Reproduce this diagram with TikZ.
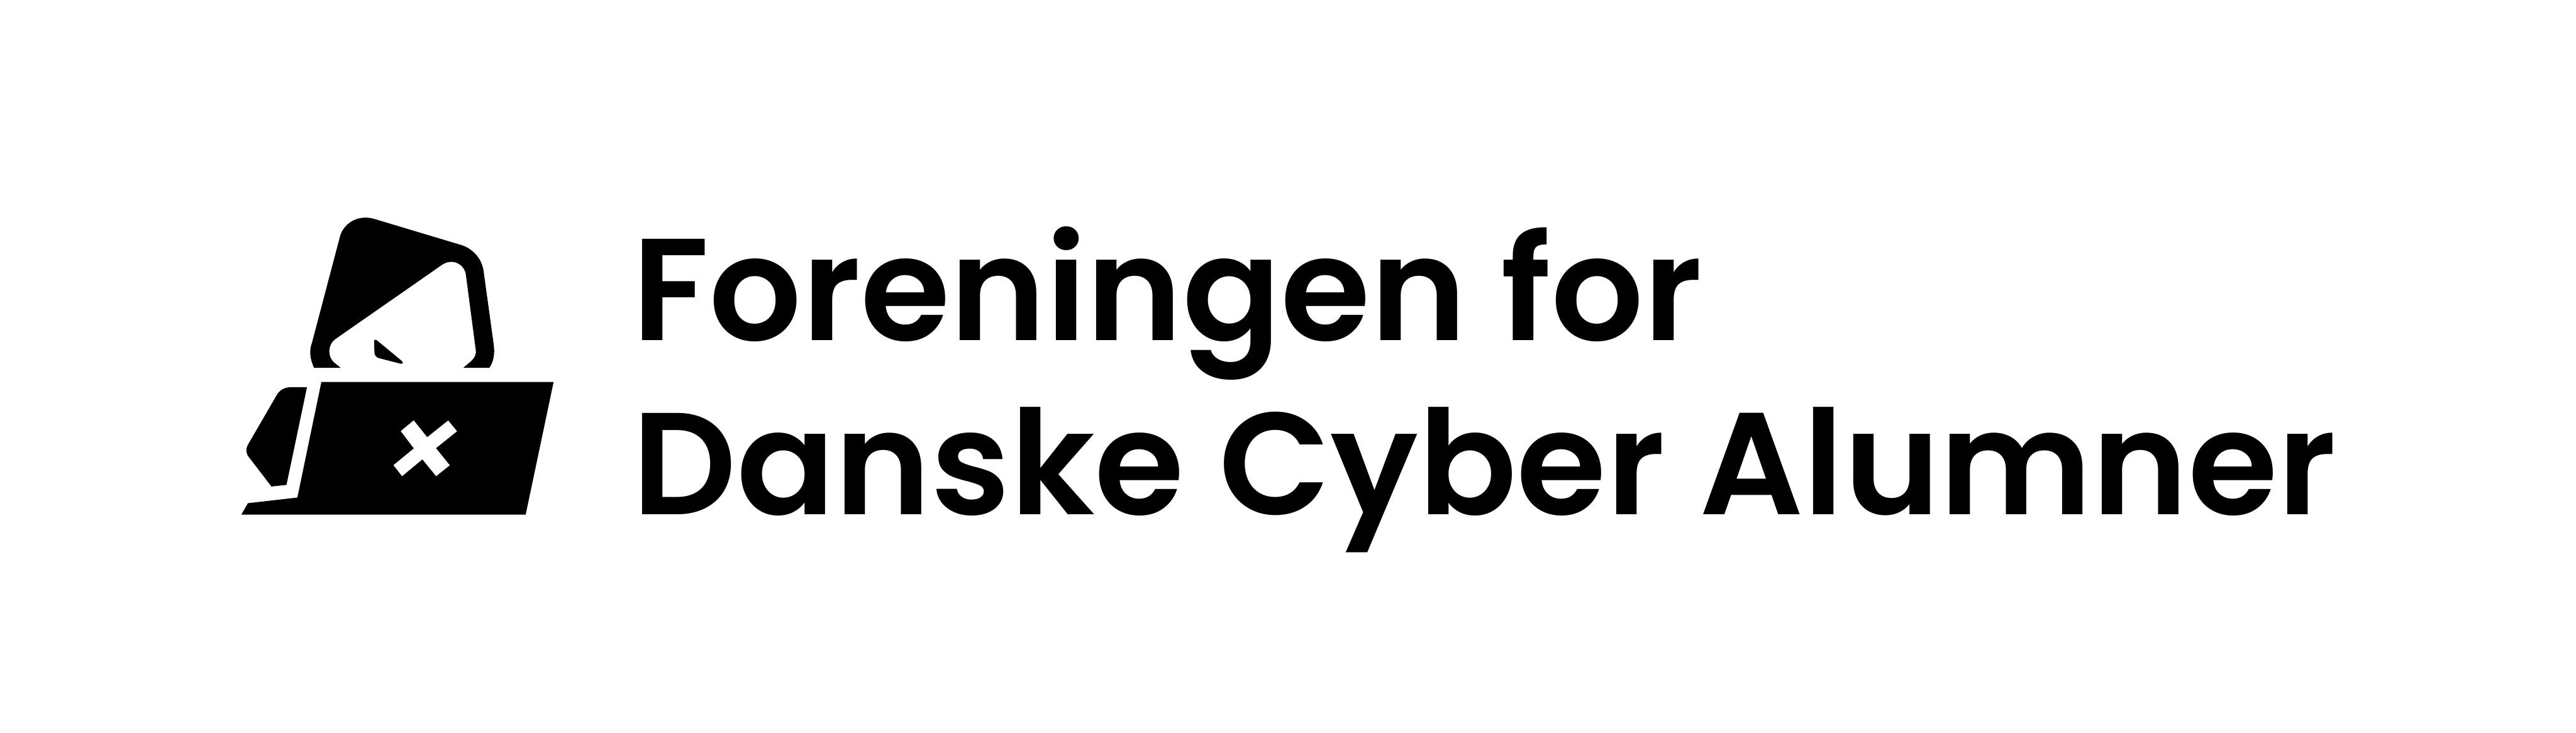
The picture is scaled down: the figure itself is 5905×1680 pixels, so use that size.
\documentclass[tikz,border=0pt]{standalone}
\usepackage{fontspec}
\usepackage{xcolor}
\usepackage{tikz}
\newfontfamily\logofont{Poppins SemiBold}
\tikzset{
  logoshape/.style={fill=black,draw=none},
  logocut/.style={fill=white,draw=none},
  logotext/.style={anchor=base west,inner sep=0pt,font=\logofont\fontsize{94.65}{95}\selectfont}
}

\begin{document}
\begin{tikzpicture}[x=0.01cm,y=-0.01cm]
  \useasboundingbox (0,0) rectangle (5905,1680);

  % ballot paper
  \fill[logoshape] (720,843.7)
    .. controls (711,824) and (708,805) .. (715,786.7)
    -- (780,540)
    .. controls (790,510) and (822,492) .. (856.7,501.7)
    -- (1053.3,560.7)
    .. controls (1082,568) and (1104,592) .. (1108.3,620)
    -- (1131.7,790)
    .. controls (1135,812) and (1131,830) .. (1121.7,843.7)
    -- (1061.7,843.7) -- (1080,828.3)
    .. controls (1088,821) and (1092,812) .. (1090.7,803.3)
    -- (1067.7,628.3)
    .. controls (1063,604) and (1036,592) .. (1013.3,607.3)
    -- (770,776.7)
    .. controls (750,790) and (750,820) .. (768.3,833.3)
    -- (781,843.7) -- cycle;
  \fill[logoshape] (857.7,783)
    .. controls (857.7,778) and (861,778) .. (864,780.5)
    -- (921.7,828.3)
    .. controls (925,832) and (922.5,835.5) .. (919.3,834.3)
    -- (870,821.7)
    .. controls (863,820) and (858.3,815) .. (858.3,808) -- cycle;

  % ballot box with cross
  \fill[logoshape] (736.7,876) -- (1269,876) -- (1205,1180) -- (553.3,1180)
    -- (568.3,1154) -- (681.7,1141) -- cycle;
  \fill[logocut] (948.3,964) -- (979.3,1002.7) -- (1027.3,964.3) -- (1047.6,989)
    -- (999.3,1027.7) -- (1031,1067) -- (999.7,1092) -- (968.3,1053.3)
    -- (921.7,1092) -- (902,1066.7) -- (948.7,1028.3) -- (918.7,988.7) -- cycle;

  % hand
  \fill[logoshape] (703.7,888) -- (666.7,888)
    .. controls (652,888) and (641,895) .. (635,905)
    -- (569.3,1018.3)
    .. controls (562,1030) and (564,1042) .. (572.7,1051)
    -- (622.3,1115.7) -- (656.7,1112) -- cycle;

  \node[logotext] (firstline) at (1449,780.5) {Foreningen for};
  \node[logotext] (secondline) at (1449,1180.5) {Danske Cyber Alumner};
\end{tikzpicture}
\end{document}
